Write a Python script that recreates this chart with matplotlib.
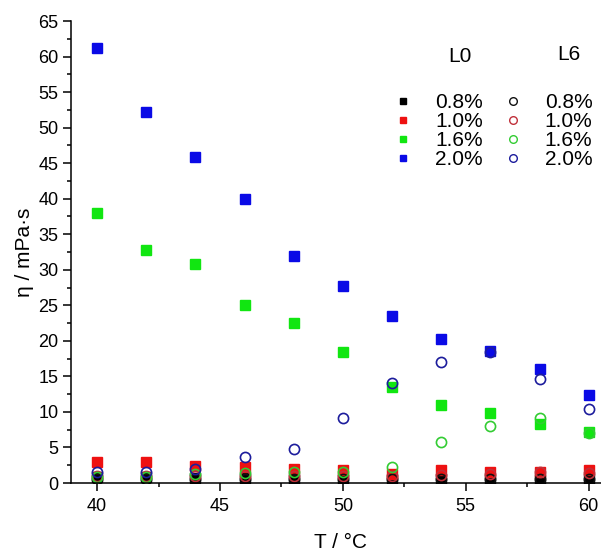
import matplotlib
matplotlib.use("Agg")
import matplotlib.pyplot as plt
from matplotlib.lines import Line2D
from matplotlib.ticker import MultipleLocator

plt.rcParams['font.family'] = ['Liberation Sans', 'DejaVu Sans']

T = [40, 42, 44, 46, 48, 50, 52, 54, 56, 58, 60]
concs = ["0.8%", "1.0%", "1.6%", "2.0%"]

# L0 (filled squares)
L0_08 = [0.9, 0.8, 0.7, 0.7, 0.6, 0.6, 0.5, 0.5, 0.5, 0.5, 0.5]
L0_10 = [2.9, 2.9, 2.4, 2.3, 2.0, 1.8, 1.2, 1.8, 1.6, 1.5, 1.8]
L0_16 = [38.0, 32.8, 30.8, 25.0, 22.5, 18.5, 13.5, 11.0, 9.8, 8.3, 7.2]
L0_20 = [61.2, 52.2, 45.9, 39.9, 31.9, 27.7, 23.5, 20.2, 18.6, 16.0, 12.4]

# L6 (open circles)
L6_08 = [0.6, 0.6, 0.6, 0.6, 0.5, 0.5, 0.5, 0.5, 0.5, 0.5, 0.5]
L6_10 = [1.0, 1.0, 1.0, 1.0, 1.0, 1.0, 1.0, 1.1, 1.3, 1.6, 1.4]
L6_16 = [0.9, 0.9, 1.2, 1.4, 1.6, 1.6, 2.2, 5.7, 8.0, 9.2, 7.1]
L6_20 = [1.5, 1.6, 1.9, 3.7, 4.8, 9.2, 14.0, 17.0, 18.5, 14.7, 10.4]

sq_colors = ['#000000', '#ee1111', '#11e611', '#0a0ae6']
ci_colors = ['#111111', '#c0303a', '#33cc33', '#1c1c9c']

W, H = 601, 559
fig = plt.figure(figsize=(W / 100, H / 100), dpi=100)
ax = fig.add_axes([71 / W, 1 - 483 / H, 530 / W, 462 / H])

for vals, c in zip([L0_08, L0_10, L0_16, L0_20], sq_colors):
    ax.plot(T, vals, linestyle='none', marker='s', ms=6.5, color=c, mec=c)
for vals, c in zip([L6_08, L6_10, L6_16, L6_20], ci_colors):
    ax.plot(T, vals, linestyle='none', marker='o', ms=7.3, mfc='none', mec=c, mew=1.2)

ax.set_xlim(38.94, 60.5)
ax.set_ylim(0, 65)
ax.xaxis.set_major_locator(MultipleLocator(5))
ax.xaxis.set_minor_locator(MultipleLocator(2.5))
ax.yaxis.set_major_locator(MultipleLocator(5))
ax.yaxis.set_minor_locator(MultipleLocator(2.5))
for s in ['top', 'right']:
    ax.spines[s].set_visible(False)
for s in ['left', 'bottom']:
    ax.spines[s].set_linewidth(1.1)
ax.tick_params(which='major', direction='out', length=6, width=1.1, labelsize=13)
ax.tick_params(axis='x', which='major', pad=5)
ax.tick_params(axis='y', which='major', pad=3)
ax.tick_params(which='minor', direction='out', length=3, width=1.1)

ax.set_xlabel('T / °C', fontsize=15)
ax.set_ylabel('η / mPa·s', fontsize=15, labelpad=3)
ax.xaxis.set_label_coords((340 - 71) / 530, -(533 - 483) / 462)

handles = []
labels = []
for c, lab in zip(sq_colors, concs):
    handles.append(Line2D([], [], linestyle='none', marker='s', ms=5, color=c))
    labels.append(lab)
for c, lab in zip(ci_colors, concs):
    handles.append(Line2D([], [], linestyle='none', marker='o', ms=5.5, mfc='none', mec=c, mew=1.0))
    labels.append(lab)

fs = 15
leg = fig.legend(handles, labels, ncol=2, loc='upper left',
                 bbox_to_anchor=(395 / W, 1 - 93 / H), frameon=False,
                 fontsize=fs, borderpad=0, borderaxespad=0,
                 handlelength=0.8, handletextpad=1.12, columnspacing=1.05,
                 labelspacing=0.0)
fig.text(460 / W, 1 - 57 / H, 'L0', fontsize=fs, ha='center', va='center')
fig.text(569 / W, 1 - 55 / H, 'L6', fontsize=fs, ha='center', va='center')

fig.savefig('out.png', dpi=100)
